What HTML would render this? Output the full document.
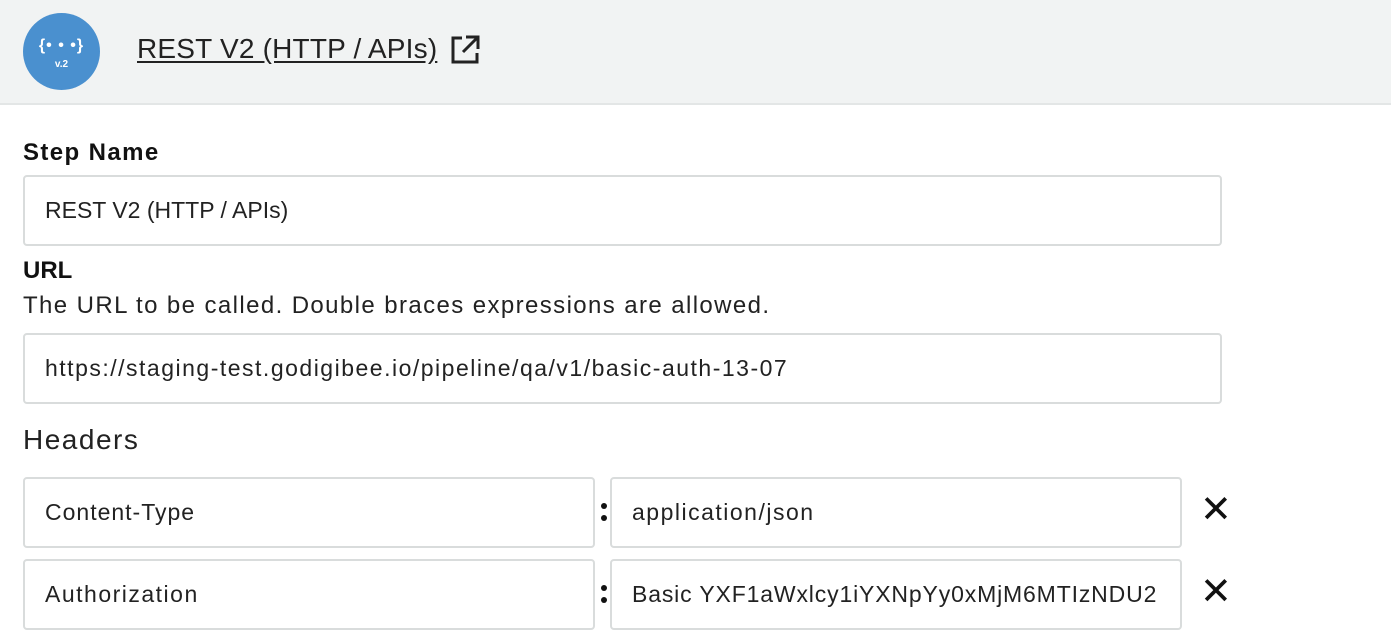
<!DOCTYPE html>
<html><head><style>
body{margin:0;width:1391px;height:639px;background:#fff;font-family:"Liberation Sans",sans-serif;color:#222;position:relative;overflow:hidden}
.hdr{position:absolute;left:0;top:0;width:1391px;height:103px;background:#f1f3f3;border-bottom:2px solid #e3e6e6}
.circ{position:absolute;left:23px;top:13px;width:77px;height:77px;border-radius:50%;background:#4a90cf;color:#fff;text-align:center;font-weight:bold}
.t{position:absolute;white-space:nowrap}
.inp{position:absolute;border:2px solid #d9dcdc;border-radius:4px;box-sizing:border-box;font-size:23px;padding-left:20px;display:flex;align-items:center;color:#222;white-space:nowrap}
.lbl{font-size:24px;font-weight:bold;color:#111}
.x{position:absolute;font-size:38px;color:#111}
.col{position:absolute;width:6px;height:6px;border-radius:50%;background:#111}
</style></head><body>
<div class="hdr">
 <div class="circ"><div style="font-size:16px;margin-top:24px;letter-spacing:1px">{• • •}</div><div style="font-size:10px;margin-top:4px">v.2</div></div>
 <div class="t" style="left:137px;top:33px;font-size:28px;text-decoration:underline;text-underline-offset:3px;color:#222;letter-spacing:0.2px">REST V2 (HTTP / APIs)</div>
 <svg style="position:absolute;left:449px;top:34px" width="32" height="32" viewBox="0 0 32 32" fill="none" stroke="#222" stroke-width="3"><path d="M13 4H4v24h24v-9"/><path d="M17 3h12v12M29 3L14 18"/></svg>
</div>
<div class="t lbl" style="left:23px;top:139px;letter-spacing:1.4px">Step Name</div>
<div class="inp" style="left:23px;top:175px;width:1199px;height:71px">REST V2 (HTTP / APIs)</div>
<div class="t lbl" style="left:23px;top:257px">URL</div>
<div class="t" style="left:23px;top:292px;font-size:24px;letter-spacing:1.4px">The URL to be called. Double braces expressions are allowed.</div>
<div class="inp" style="left:23px;top:333px;width:1199px;height:71px;letter-spacing:1.5px">https://staging-test.godigibee.io/pipeline/qa/v1/basic-auth-13-07</div>
<div class="t" style="left:23px;top:424px;font-size:28px;letter-spacing:1.5px">Headers</div>
<div class="inp" style="left:23px;top:477px;width:572px;height:71px;letter-spacing:1px">Content-Type</div>
<div class="col" style="left:601px;top:503px"></div><div class="col" style="left:601px;top:515px"></div>
<div class="inp" style="left:610px;top:477px;width:572px;height:71px;letter-spacing:1.5px">application/json</div>
<div class="x" style="left:1200px;top:487px">✕</div>
<div class="inp" style="left:23px;top:559px;width:572px;height:71px;letter-spacing:1.5px">Authorization</div>
<div class="col" style="left:601px;top:585px"></div><div class="col" style="left:601px;top:597px"></div>
<div class="inp" style="left:610px;top:559px;width:572px;height:71px;letter-spacing:0.85px">Basic YXF1aWxlcy1iYXNpYy0xMjM6MTIzNDU2</div>
<div class="x" style="left:1200px;top:569px">✕</div>
</body></html>
